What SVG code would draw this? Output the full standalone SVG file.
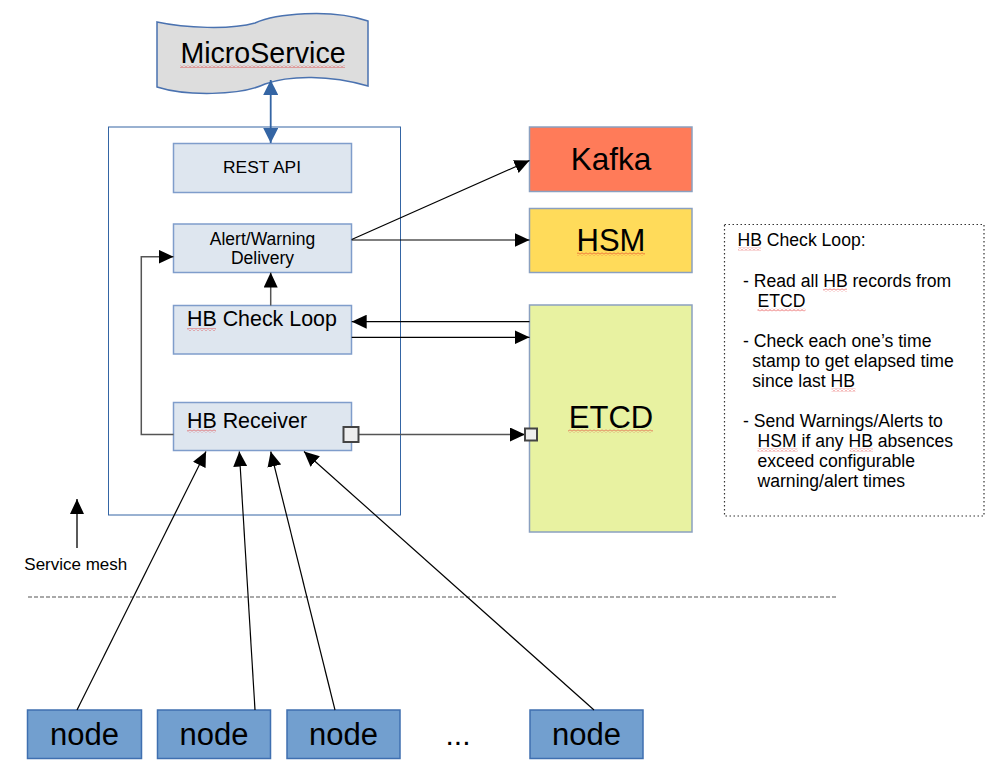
<svg xmlns="http://www.w3.org/2000/svg" width="997" height="776" viewBox="0 0 997 776">
<style>
text{font-family:"Liberation Sans",Arial,sans-serif;fill:#000}
.box{fill:#dee6ef;stroke:#7f9dcb;stroke-width:1.5}
.ext{stroke:#8aa0c0;stroke-width:1.5}
.node rect{fill:#729fcf;stroke:#3f6fb0;stroke-width:1.5}
.node text{font-size:31px;text-anchor:middle}
.c{fill:none;stroke:#000;stroke-width:1.2}
.g{fill:none;stroke:#555;stroke-width:1.5}
.sq{fill:#eeeeee;stroke:#444;stroke-width:2}
.sp{fill:url(#squig)}
</style>
<defs>
<marker id="ah" viewBox="0 0 15 14" refX="15" refY="7" markerWidth="15" markerHeight="14" markerUnits="userSpaceOnUse" orient="auto"><path d="M0,0 L15,7 L0,14 Z" fill="#000"/></marker>
<marker id="bh" viewBox="0 0 15 15" refX="15" refY="7.5" markerWidth="15" markerHeight="15" markerUnits="userSpaceOnUse" orient="auto-start-reverse"><path d="M0,0 L15,7.5 L0,15 Z" fill="#3465a4"/></marker>
<pattern id="squig" width="4" height="3" patternUnits="userSpaceOnUse"><path d="M0,2.5 L2,0.5 L4,2.5" fill="none" stroke="#e02020" stroke-width="0.7"/></pattern>
</defs>
<rect width="997" height="776" fill="#fff"/>

<g id="microservice">
<path d="M157,22 C185,28 230,30 255,23 C275,14 330,8 368,21 L368,86 C330,75 290,75 265,84 C240,96 185,96 157,87 Z" fill="#dddddd" stroke="#4a72b0" stroke-width="1.5"/>
<text x="263" y="63" font-size="28.6" text-anchor="middle">MicroService</text>
<rect class="sp" x="180" y="65" width="165" height="3"/>
</g>

<g id="service-box">
<rect x="108.5" y="127" width="292" height="388" fill="none" stroke="#3465a4" stroke-width="1"/>
</g>

<g id="rest-api">
<rect class="box" x="173.5" y="143.5" width="178" height="49"/>
<text x="223" y="172.5" font-size="16.3" textLength="78" lengthAdjust="spacingAndGlyphs">REST API</text>
</g>

<g id="alert-delivery">
<rect class="box" x="173.5" y="224" width="178" height="48.5"/>
<text x="262.5" y="244.5" font-size="17.5" text-anchor="middle">Alert/Warning</text>
<text x="262.5" y="264" font-size="17.5" text-anchor="middle">Delivery</text>
</g>

<g id="hb-check-loop">
<rect class="box" x="173.5" y="305.5" width="178" height="48.5"/>
<text x="187" y="326" font-size="21.4">HB Check Loop</text>
<rect class="sp" x="187" y="328" width="29" height="3"/>
</g>

<g id="hb-receiver">
<rect class="box" x="173.5" y="402.5" width="178" height="48"/>
<text x="187" y="427.5" font-size="21.4">HB Receiver</text>
<rect class="sp" x="187" y="429.5" width="29" height="3"/>
</g>

<g id="kafka">
<rect class="ext" x="529.5" y="127" width="162.5" height="64.5" fill="#ff7b59"/>
<text x="611" y="170" font-size="31.5" text-anchor="middle">Kafka</text>
</g>

<g id="hsm">
<rect class="ext" x="529.5" y="208.5" width="162.5" height="64" fill="#ffdb5a"/>
<text x="611" y="251" font-size="31" text-anchor="middle">HSM</text>
<rect class="sp" x="577" y="252.5" width="68" height="3"/>
</g>

<g id="etcd">
<rect class="ext" x="529.5" y="305" width="162.5" height="227" fill="#e8f2a1"/>
<text x="611" y="428" font-size="31" text-anchor="middle">ETCD</text>
<rect class="sp" x="568" y="429.5" width="85" height="3"/>
</g>

<g id="note">
<rect x="724.5" y="224.5" width="259.5" height="291.5" fill="none" stroke="#333" stroke-width="1.2" stroke-dasharray="1.5,2.5"/>
<g font-size="17.6">
<text x="737.5" y="245.7">HB Check Loop:</text>
<text x="743" y="286.7">- Read all HB records from</text>
<text x="757.5" y="306.7">ETCD</text>
<text x="743" y="346.7">- Check each one’s time</text>
<text x="752.3" y="366.7">stamp to get elapsed time</text>
<text x="752.3" y="386.7">since last HB</text>
<text x="743" y="426.7">- Send Warnings/Alerts to</text>
<text x="757.5" y="446.7">HSM if any HB absences</text>
<text x="757.5" y="466.7">exceed configurable</text>
<text x="757.5" y="486.7">warning/alert times</text>
</g>
<rect class="sp" x="738" y="247.5" width="23" height="3"/>
<rect class="sp" x="823" y="288.5" width="24" height="3"/>
<rect class="sp" x="757.5" y="308.5" width="48" height="3"/>
<rect class="sp" x="831.5" y="388.5" width="24" height="3"/>
<rect class="sp" x="757.5" y="448.5" width="40" height="3"/>
<rect class="sp" x="850" y="448.5" width="23" height="3"/>
</g>

<g id="service-mesh">
<text x="24.3" y="570" font-size="17">Service mesh</text>
</g>

<g id="divider">
<line x1="28" y1="597" x2="838" y2="597" stroke="#555" stroke-width="1.2" stroke-dasharray="4,2"/>
</g>

<g id="node1" class="node"><rect x="27.5" y="710" width="114" height="48.5"/><text x="84.5" y="745">node</text></g>
<g id="node2" class="node"><rect x="157.5" y="710" width="113" height="48.5"/><text x="214" y="745">node</text></g>
<g id="node3" class="node"><rect x="287" y="710" width="113" height="48.5"/><text x="343.5" y="745">node</text></g>
<g id="ellipsis"><text x="458" y="745" font-size="30" text-anchor="middle">...</text></g>
<g id="node4" class="node"><rect x="530" y="710" width="113" height="48.5"/><text x="586.5" y="745">node</text></g>

<g id="connectors">
<line x1="270.7" y1="80" x2="270.7" y2="143" stroke="#3465a4" stroke-width="1.8" marker-start="url(#bh)" marker-end="url(#bh)"/>
<line class="g" x1="270.7" y1="305.5" x2="270.7" y2="272.5" marker-end="url(#ah)"/>
<polyline class="g" points="173.5,434.5 141.3,434.5 141.3,256.7 173.5,256.7" marker-end="url(#ah)"/>
<line class="c" x1="351.7" y1="239.5" x2="529.5" y2="160.5" marker-end="url(#ah)"/>
<line class="c" x1="351.7" y1="240" x2="529.5" y2="240" marker-end="url(#ah)"/>
<line class="c" x1="529.5" y1="321.7" x2="351.7" y2="321.7" marker-end="url(#ah)"/>
<line class="c" x1="351.7" y1="337.3" x2="529.5" y2="337.3" marker-end="url(#ah)"/>
<line class="g" x1="359" y1="434.5" x2="525" y2="434.5" marker-end="url(#ah)"/>
<rect class="sq" x="343.5" y="427" width="15" height="15"/>
<rect class="sq" x="525" y="428.5" width="12" height="12"/>
<line x1="77" y1="548" x2="77" y2="499" stroke="#000" stroke-width="1.3" marker-end="url(#ah)"/>
<line class="c" stroke-width="1" x1="77" y1="710" x2="206" y2="451.5" marker-end="url(#ah)"/>
<line class="c" stroke-width="1" x1="255" y1="710" x2="239.3" y2="451.5" marker-end="url(#ah)"/>
<line class="c" stroke-width="1" x1="335" y1="710" x2="270.7" y2="451.5" marker-end="url(#ah)"/>
<line class="c" stroke-width="1" x1="594" y1="710" x2="304" y2="451.5" marker-end="url(#ah)"/>
</g>
</svg>
